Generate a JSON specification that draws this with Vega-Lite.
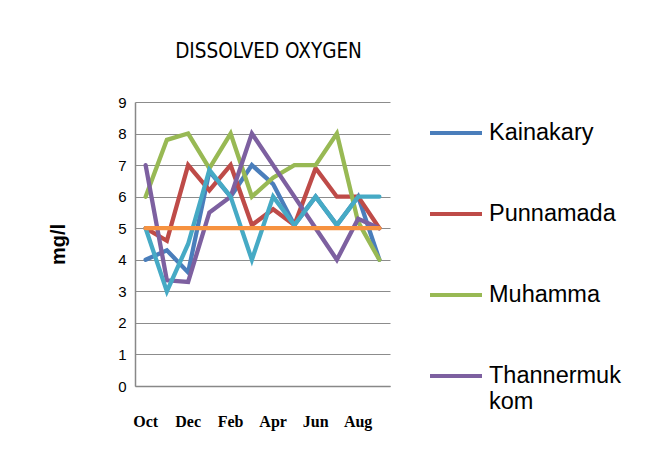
{
  "$schema": "https://vega.github.io/schema/vega-lite/v6.json",
  "width": 255,
  "height": 284,
  "autosize": {"type": "none"},
  "padding": {"left": 135, "top": 102, "right": 266, "bottom": 73},
  "background": "white",
  "title": {
    "text": "DISSOLVED OXYGEN",
    "font": "DejaVu Sans Condensed, Liberation Sans",
    "fontSize": 20.5,
    "fontWeight": "normal",
    "color": "#000000",
    "anchor": "middle",
    "offset": 33,
    "dx": 6
  },
  "data": {
    "values": [
      {"month": "Oct", "site": "Kainakary", "value": 4.0},
      {"month": "Nov", "site": "Kainakary", "value": 4.3},
      {"month": "Dec", "site": "Kainakary", "value": 3.6},
      {"month": "Jan", "site": "Kainakary", "value": 6.8},
      {"month": "Feb", "site": "Kainakary", "value": 6.0},
      {"month": "Mar", "site": "Kainakary", "value": 7.0},
      {"month": "Apr", "site": "Kainakary", "value": 6.4},
      {"month": "May", "site": "Kainakary", "value": 5.1},
      {"month": "Jun", "site": "Kainakary", "value": 6.0},
      {"month": "Jul", "site": "Kainakary", "value": 5.1},
      {"month": "Aug", "site": "Kainakary", "value": 6.0},
      {"month": "Sep", "site": "Kainakary", "value": 4.0},
      {"month": "Oct", "site": "Punnamada", "value": 5.0},
      {"month": "Nov", "site": "Punnamada", "value": 4.6},
      {"month": "Dec", "site": "Punnamada", "value": 7.0},
      {"month": "Jan", "site": "Punnamada", "value": 6.2},
      {"month": "Feb", "site": "Punnamada", "value": 7.0},
      {"month": "Mar", "site": "Punnamada", "value": 5.1},
      {"month": "Apr", "site": "Punnamada", "value": 5.6},
      {"month": "May", "site": "Punnamada", "value": 5.1},
      {"month": "Jun", "site": "Punnamada", "value": 6.9},
      {"month": "Jul", "site": "Punnamada", "value": 6.0},
      {"month": "Aug", "site": "Punnamada", "value": 6.0},
      {"month": "Sep", "site": "Punnamada", "value": 5.0},
      {"month": "Oct", "site": "Muhamma", "value": 6.0},
      {"month": "Nov", "site": "Muhamma", "value": 7.8},
      {"month": "Dec", "site": "Muhamma", "value": 8.0},
      {"month": "Jan", "site": "Muhamma", "value": 6.9},
      {"month": "Feb", "site": "Muhamma", "value": 8.0},
      {"month": "Mar", "site": "Muhamma", "value": 6.0},
      {"month": "Apr", "site": "Muhamma", "value": 6.6},
      {"month": "May", "site": "Muhamma", "value": 7.0},
      {"month": "Jun", "site": "Muhamma", "value": 7.0},
      {"month": "Jul", "site": "Muhamma", "value": 8.0},
      {"month": "Aug", "site": "Muhamma", "value": 5.2},
      {"month": "Sep", "site": "Muhamma", "value": 4.0},
      {"month": "Oct", "site": "Thannermukkom", "value": 7.0},
      {"month": "Nov", "site": "Thannermukkom", "value": 3.35},
      {"month": "Dec", "site": "Thannermukkom", "value": 3.3},
      {"month": "Jan", "site": "Thannermukkom", "value": 5.5},
      {"month": "Feb", "site": "Thannermukkom", "value": 6.0},
      {"month": "Mar", "site": "Thannermukkom", "value": 8.0},
      {"month": "Apr", "site": "Thannermukkom", "value": 7.0},
      {"month": "May", "site": "Thannermukkom", "value": 6.0},
      {"month": "Jun", "site": "Thannermukkom", "value": 5.0},
      {"month": "Jul", "site": "Thannermukkom", "value": 4.0},
      {"month": "Aug", "site": "Thannermukkom", "value": 5.3},
      {"month": "Sep", "site": "Thannermukkom", "value": 5.0},
      {"month": "Oct", "site": "Kumarakom", "value": 5.0},
      {"month": "Nov", "site": "Kumarakom", "value": 3.0},
      {"month": "Dec", "site": "Kumarakom", "value": 4.5},
      {"month": "Jan", "site": "Kumarakom", "value": 6.85},
      {"month": "Feb", "site": "Kumarakom", "value": 6.0},
      {"month": "Mar", "site": "Kumarakom", "value": 4.0},
      {"month": "Apr", "site": "Kumarakom", "value": 6.0},
      {"month": "May", "site": "Kumarakom", "value": 5.1},
      {"month": "Jun", "site": "Kumarakom", "value": 6.0},
      {"month": "Jul", "site": "Kumarakom", "value": 5.1},
      {"month": "Aug", "site": "Kumarakom", "value": 6.0},
      {"month": "Sep", "site": "Kumarakom", "value": 6.0},
      {"month": "Oct", "site": "Standard", "value": 5.0},
      {"month": "Nov", "site": "Standard", "value": 5.0},
      {"month": "Dec", "site": "Standard", "value": 5.0},
      {"month": "Jan", "site": "Standard", "value": 5.0},
      {"month": "Feb", "site": "Standard", "value": 5.0},
      {"month": "Mar", "site": "Standard", "value": 5.0},
      {"month": "Apr", "site": "Standard", "value": 5.0},
      {"month": "May", "site": "Standard", "value": 5.0},
      {"month": "Jun", "site": "Standard", "value": 5.0},
      {"month": "Jul", "site": "Standard", "value": 5.0},
      {"month": "Aug", "site": "Standard", "value": 5.0},
      {"month": "Sep", "site": "Standard", "value": 5.0}
    ]
  },
  "mark": {"type": "line", "strokeWidth": 4.3, "strokeCap": "round", "strokeJoin": "miter"},
  "encoding": {
    "x": {
      "field": "month",
      "type": "ordinal",
      "sort": ["Oct", "Nov", "Dec", "Jan", "Feb", "Mar", "Apr", "May", "Jun", "Jul", "Aug", "Sep"],
      "scale": {"type": "band", "paddingInner": 0, "paddingOuter": 0},
      "axis": {
        "title": null,
        "values": ["Oct", "Dec", "Feb", "Apr", "Jun", "Aug"],
        "labelAngle": 0,
        "labelFont": "Liberation Serif",
        "labelFontWeight": "bold",
        "labelFontSize": 16,
        "labelColor": "#000000",
        "labelPadding": 27,
        "ticks": false,
        "domainColor": "#888888",
        "domainWidth": 1.5,
        "grid": false
      }
    },
    "y": {
      "field": "value",
      "type": "quantitative",
      "scale": {"domain": [0, 9], "nice": false, "zero": true},
      "axis": {
        "title": "mg/l",
        "titleFont": "Liberation Sans",
        "titleFontWeight": "bold",
        "titleFontSize": 20,
        "titleColor": "#000000",
        "titlePadding": 49,
        "values": [0, 1, 2, 3, 4, 5, 6, 7, 8, 9],
        "labelFont": "Liberation Sans",
        "labelFontSize": 15,
        "labelColor": "#000000",
        "labelPadding": 9,
        "ticks": false,
        "domainColor": "#888888",
        "domainWidth": 1.5,
        "grid": true,
        "gridColor": "#8c8c8c",
        "gridWidth": 1.2
      }
    },
    "color": {
      "field": "site",
      "type": "nominal",
      "scale": {
        "domain": ["Kainakary", "Punnamada", "Muhamma", "Thannermukkom", "Kumarakom", "Standard"],
        "range": ["#4A7EBB", "#BE4B48", "#98B954", "#7D60A0", "#46AAC5", "#F69240"]
      },
      "legend": {
        "title": null,
        "values": ["Kainakary", "Punnamada", "Muhamma", "Thannermukkom"],
        "orient": "none",
        "legendX": 293,
        "legendY": 3,
        "symbolType": "stroke",
        "symbolSize": 2704,
        "symbolStrokeWidth": 4,
        "labelFont": "Liberation Sans",
        "labelFontSize": 23.5,
        "labelColor": "#000000",
        "labelOffset": 5,
        "labelLimit": 300,
        "rowPadding": 41,
        "labelExpr": "datum.label == 'Thannermukkom' ? ['Thannermuk', 'kom'] : datum.label"
      }
    }
  },
  "config": {
    "view": {"stroke": null}
  }
}
